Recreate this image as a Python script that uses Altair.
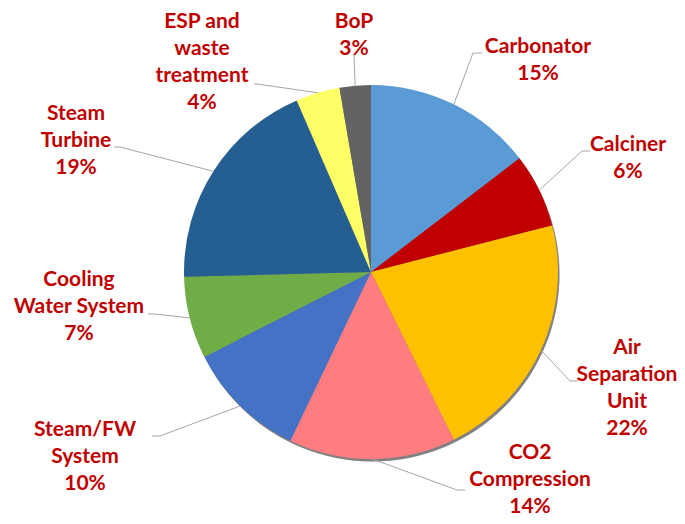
import altair as alt
import pandas as pd

# ---- data ----
categories = ["Carbonator", "Calciner", "Air Separation Unit", "CO2 Compression",
              "Steam/FW System", "Cooling Water System", "Steam Turbine",
              "ESP and waste treatment", "BoP"]
values = [14.6, 6.4, 21.7, 14.4, 10.4, 7.1, 18.9, 3.8, 2.7]
label_lines = ["Carbonator", "Calciner", "Air\nSeparation\nUnit", "CO2\nCompression",
               "Steam/FW\nSystem", "Cooling\nWater System", "Steam\nTurbine",
               "ESP and\nwaste\ntreatment", "BoP"]
colors = ["#5B9BD5", "#C00000", "#FFC000", "#FF7C80", "#4472C4",
          "#70AD47", "#255E91", "#FFFF66", "#636363"]

# ---- layout (pixels, relative to the pie centre) ----
CX, CY, R = 363, 264, 187
LINE_H = 27
elbow_dx = [102, 211, 199, 86, -211, -216, -251, -114, -17]
elbow_dy = [-219, -121, 109, 218, 164, 42, -125, -188, -217]
tail = [9, 8, 8, 8, -8, -7, -6, -3, 0]
label_dx = [167, 257, 256, 159, -286, -292, -295, -169, -17]
label_dy = [-212, -114, 116, 208, 185, 35, -131, -210, -237]

total = sum(values)
texts = [f"{l}\n{round(v / total * 100)}%" for l, v in zip(label_lines, values)]
nlines = [t.count("\n") + 1 for t in texts]
df = pd.DataFrame({
    "idx": list(range(len(categories))),
    "category": categories,
    "value": values,
    "label": texts,
    "bx": [CX + d for d in elbow_dx],
    "by": [CY + d for d in elbow_dy],
    "tail": tail,
    "lx": [CX + d for d in label_dx],
    # first-line y so that the block is centred on label_dy
    "ly": [CY + d - (n - 1) * LINE_H / 2 for d, n in zip(label_dy, nlines)],
})

base = alt.Chart(df)

shadow = base.mark_arc(outerRadius=R, theta=0, theta2=6.2832, color="#000000",
                       opacity=0.07).encode(x=alt.value(CX + 1.5), y=alt.value(CY + 2.5))

pie = base.mark_arc(outerRadius=R).encode(
    theta=alt.Theta("value:Q", stack=True),
    color=alt.Color("category:N", scale=alt.Scale(domain=categories, range=colors), legend=None),
    order=alt.Order("idx:Q"),
    x=alt.value(CX),
    y=alt.value(CY),
)

leader_base = base.transform_window(
    cum="sum(value)", sort=[alt.SortField("idx")], frame=[None, 0]
).transform_joinaggregate(
    tot="sum(value)"
).transform_calculate(
    mid="(datum.cum - datum.value / 2) / datum.tot * 2 * PI",
).transform_calculate(
    ex=f"{CX} + {R} * sin(datum.mid)",
    ey=f"{CY} - {R} * cos(datum.mid)",
    tx="datum.bx + datum.tail",
)

leader1 = leader_base.mark_rule(color="#A6A6A6", strokeWidth=1).encode(
    x=alt.X("ex:Q", scale=None), y=alt.Y("ey:Q", scale=None),
    x2="bx:Q", y2="by:Q",
)
leader2 = leader_base.mark_rule(color="#A6A6A6", strokeWidth=1).encode(
    x=alt.X("bx:Q", scale=None), y=alt.Y("by:Q", scale=None),
    x2="tx:Q", y2="by:Q",
)

labels = base.mark_text(
    lineBreak="\n", align="center", baseline="middle", lineHeight=LINE_H,
    font="Lato", fontWeight="bold", fontSize=21, color="#C00000",
).encode(
    x=alt.X("lx:Q", scale=None), y=alt.Y("ly:Q", scale=None), text="label:N",
)

chart = alt.layer(shadow, pie, leader1, leader2, labels).properties(
    width=669, height=508, padding=0, autosize=alt.AutoSizeParams(type="none"),
    background="white",
).configure_view(stroke=None)

chart.save("out.html", embed_options={"renderer": "svg", "actions": False})
